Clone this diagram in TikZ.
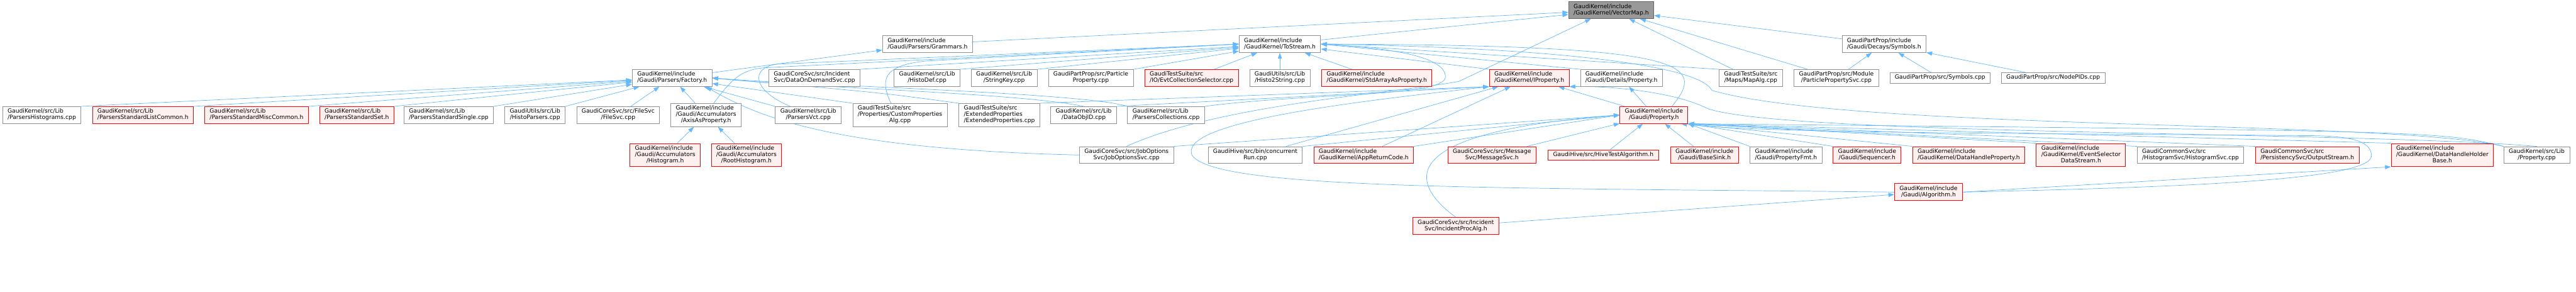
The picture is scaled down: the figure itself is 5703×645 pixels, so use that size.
\documentclass[tikz,border=0pt]{standalone}
\usepackage{fontspec}
\setmainfont{DejaVu Sans}
\usetikzlibrary{arrows.meta}
\definecolor{edgeblue}{HTML}{63B8FF}
\definecolor{boxgray}{HTML}{909090}
\definecolor{rootfill}{HTML}{999999}
\definecolor{rootline}{HTML}{666666}
\definecolor{truncfill}{HTML}{FFF0F0}
% first lines flush left, last line centred
\newcommand{\lbl}[2]{\begin{tabular}{@{}l@{}}#1\\\multicolumn{1}{@{}c@{}}{#2}\end{tabular}}
\newcommand{\lblone}[1]{\begin{tabular}{@{}c@{}}#1\end{tabular}}
\pgfdeclarelayer{edges}
\pgfsetlayers{edges,main}
\tikzset{
  srcbox/.style={draw=boxgray, fill=white, line width=1.2pt, inner xsep=11pt, inner ysep=4.8pt,
    font=\fontsize{12.8pt}{13.7pt}\selectfont},
  redbox/.style={srcbox, draw=red, fill=truncfill},
  rootbox/.style={srcbox, draw=rootline, fill=rootfill},
  incl/.style={draw=edgeblue, line width=1pt, -{Triangle[length=13pt,width=9pt]}}
}

\begin{document}
\begin{tikzpicture}[x=1pt,y=-1pt]
  \useasboundingbox (0,0) rectangle (5703,645);
  % root
  \node[rootbox] (VM) at (3567,22.5) {\lbl{GaudiKernel/include}{/GaudiKernel/VectorMap.h}};
  % level 1
  \node[srcbox] (GR) at (2053.5,97.5) {\lbl{GaudiKernel/include}{/Gaudi/Parsers/Grammars.h}};
  \node[srcbox] (TS) at (2833.5,97.5) {\lbl{GaudiKernel/include}{/GaudiKernel/ToStream.h}};
  \node[srcbox] (SYH) at (4171,97.5) {\lbl{GaudiPartProp/include}{/Gaudi/Decays/Symbols.h}};
  % level 2
  \node[srcbox] (FA) at (1488,172.5) {\lbl{GaudiKernel/include}{/Gaudi/Parsers/Factory.h}};
  \node[srcbox] (DOD) at (1803,172.5) {\lbl{GaudiCoreSvc/src/Incident}{Svc/DataOnDemandSvc.cpp}};
  \node[srcbox] (HD) at (2052.5,172.5) {\lbl{GaudiKernel/src/Lib}{/HistoDef.cpp}};
  \node[srcbox] (SK) at (2223,172.5) {\lbl{GaudiKernel/src/Lib}{/StringKey.cpp}};
  \node[srcbox] (PP) at (2415,172.5) {\lbl{GaudiPartProp/src/Particle}{Property.cpp}};
  \node[redbox] (ECS) at (2638,172.5) {\lbl{GaudiTestSuite/src}{/IO/EvtCollectionSelector.cpp}};
  \node[srcbox] (H2S) at (2833.5,172.5) {\lbl{GaudiUtils/src/Lib}{/Histo2String.cpp}};
  \node[redbox] (SAP) at (3048,172.5) {\lbl{GaudiKernel/include}{/GaudiKernel/StdArrayAsProperty.h}};
  \node[redbox] (IP) at (3385.5,172.5) {\lbl{GaudiKernel/include}{/GaudiKernel/IProperty.h}};
  \node[srcbox] (DP) at (3589.5,172.5) {\lbl{GaudiKernel/include}{/Gaudi/Details/Property.h}};
  \node[srcbox] (MA) at (3876,172.5) {\lbl{GaudiTestSuite/src}{/Maps/MapAlg.cpp}};
  \node[srcbox] (PPS) at (4065.5,172.5) {\lbl{GaudiPartProp/src/Module}{/ParticlePropertySvc.cpp}};
  \node[srcbox] (SYC) at (4295,172.5) {\lblone{GaudiPartProp/src/Symbols.cpp}};
  \node[srcbox] (NP) at (4545.5,172.5) {\lblone{GaudiPartProp/src/NodePIDs.cpp}};
  % level 3
  \node[srcbox] (PH) at (92.5,254.5) {\lbl{GaudiKernel/src/Lib}{/ParsersHistograms.cpp}};
  \node[redbox] (LC) at (316.5,254.5) {\lbl{GaudiKernel/src/Lib}{/ParsersStandardListCommon.h}};
  \node[redbox] (MC) at (568,254.5) {\lbl{GaudiKernel/src/Lib}{/ParsersStandardMiscCommon.h}};
  \node[redbox] (SS) at (790,254.5) {\lbl{GaudiKernel/src/Lib}{/ParsersStandardSet.h}};
  \node[srcbox] (SG) at (993.5,254.5) {\lbl{GaudiKernel/src/Lib}{/ParsersStandardSingle.cpp}};
  \node[srcbox] (HP) at (1184.5,254.5) {\lbl{GaudiUtils/src/Lib}{/HistoParsers.cpp}};
  \node[srcbox] (FS) at (1368.5,254.5) {\lbl{GaudiCoreSvc/src/FileSvc}{/FileSvc.cpp}};
  \node[srcbox] (AX) at (1563,254.5) {\lbl{GaudiKernel/include\\/Gaudi/Accumulators}{/AxisAsProperty.h}};
  \node[srcbox] (PV) at (1789.5,254.5) {\lbl{GaudiKernel/src/Lib}{/ParsersVct.cpp}};
  \node[srcbox] (CP) at (1992.5,254.5) {\lbl{GaudiTestSuite/src\\/Properties/CustomProperties}{Alg.cpp}};
  \node[srcbox] (EP) at (2212.5,254.5) {\lbl{GaudiTestSuite/src\\/ExtendedProperties}{/ExtendedProperties.cpp}};
  \node[srcbox] (DO) at (2399,254.5) {\lbl{GaudiKernel/src/Lib}{/DataObjID.cpp}};
  \node[srcbox] (PCol) at (2581.5,254.5) {\lbl{GaudiKernel/src/Lib}{/ParsersCollections.cpp}};
  \node[redbox] (GP) at (3661.5,254.5) {\lbl{GaudiKernel/include}{/Gaudi/Property.h}};
  % level 4
  \node[redbox] (HI) at (1472.5,343) {\lbl{GaudiKernel/include\\/Gaudi/Accumulators}{/Histogram.h}};
  \node[redbox] (RH) at (1652.5,343) {\lbl{GaudiKernel/include\\/Gaudi/Accumulators}{/RootHistogram.h}};
  \node[srcbox] (JOS) at (2494,343) {\lbl{GaudiCoreSvc/src/JobOptions}{Svc/JobOptionsSvc.cpp}};
  \node[srcbox] (CR) at (2779,343) {\lbl{GaudiHive/src/bin/concurrent}{Run.cpp}};
  \node[redbox] (ARC) at (3019,343) {\lbl{GaudiKernel/include}{/GaudiKernel/AppReturnCode.h}};
  \node[redbox] (MS) at (3303,343) {\lbl{GaudiCoreSvc/src/Message}{Svc/MessageSvc.h}};
  \node[redbox] (HT) at (3549.5,343) {\lblone{GaudiHive/src/HiveTestAlgorithm.h}};
  \node[redbox] (BS) at (3773.5,343) {\lbl{GaudiKernel/include}{/Gaudi/BaseSink.h}};
  \node[srcbox] (PF) at (3954,343) {\lbl{GaudiKernel/include}{/Gaudi/PropertyFmt.h}};
  \node[redbox] (SQ) at (4133.5,343) {\lbl{GaudiKernel/include}{/Gaudi/Sequencer.h}};
  \node[redbox] (DHP) at (4358.5,343) {\lbl{GaudiKernel/include}{/GaudiKernel/DataHandleProperty.h}};
  \node[redbox] (ESD) at (4607,343) {\lbl{GaudiKernel/include\\/GaudiKernel/EventSelector}{DataStream.h}};
  \node[srcbox] (HS) at (4849.5,343) {\lbl{GaudiCommonSvc/src}{/HistogramSvc/HistogramSvc.cpp}};
  \node[redbox] (OS) at (5108,343) {\lbl{GaudiCommonSvc/src}{/PersistencySvc/OutputStream.h}};
  \node[redbox] (DHH) at (5407,343) {\lbl{GaudiKernel/include\\/GaudiKernel/DataHandleHolder}{Base.h}};
  \node[srcbox] (PC) at (5616,343) {\lbl{GaudiKernel/src/Lib}{/Property.cpp}};
  % levels 5 and 6
  \node[redbox] (AL) at (4269.5,425) {\lbl{GaudiKernel/include}{/Gaudi/Algorithm.h}};
  \node[redbox] (IPA) at (3223,500) {\lbl{GaudiCoreSvc/src/Incident}{Svc/IncidentProcAlg.h}};

  \begin{pgfonlayer}{edges}
    % into VectorMap.h
    \draw[incl] (GR) -- (VM);
    \draw[incl] (TS) -- (VM);
    \draw[incl] (JOS.north) .. controls (2700,230) and (3100,205) .. (3230,180) -- ([xshift=-45pt]VM.south);
    \draw[incl] (MA) -- (VM);
    \draw[incl] (PPS) -- (VM);
    \draw[incl] (SYH) -- (VM);
    % into Symbols.h
    \foreach \s in {PPS,SYC,NP} \draw[incl] (\s) -- (SYH);
    % into Grammars.h
    \draw[incl] (FA) -- (GR);
    % into ToStream.h
    \draw[incl] ([xshift=17pt]AX.north) .. controls (1620,175) and (1640,155) .. (1690,150) -- (TS.west);
    \draw[incl] ([xshift=-40pt]PV.north) .. controls (1665,200) and (1660,150) .. (1720,142) -- (TS.west);
    \draw[incl] ([xshift=-20pt]CP.north) .. controls (1950,180) and (1950,145) .. (2050,135) -- (TS.west);
    \foreach \s in {DOD,HD,SK,PP} \draw[incl] (\s.north east) -- (TS);
    \foreach \s in {ECS,H2S,SAP} \draw[incl] (\s) -- (TS);
    \draw[incl] (IP.north west) -- (TS);
    \draw[incl] (DP.north west) -- (TS.east);
    \draw[incl] (MA.north west) -- (TS.east);
    \draw[incl] ([xshift=40pt]GP.north) .. controls (3780,140) and (3740,100) .. (TS.east);
    \draw[incl] (PCol.north east) .. controls (2900,205) and (3200,215) .. (3200,170) .. controls (3200,120) and (3050,105) .. (TS.east);
    \draw[incl] (PC.north west) .. controls (5300,265) and (4100,290) .. (3790,200) .. controls (3760,140) and (3400,105) .. (TS.east);
    % into Factory.h
    \foreach \s in {PH,LC,MC,SS,SG,HP} \draw[incl] (\s.north east) -- (FA);
    \draw[incl] (FS) -- (FA);
    \draw[incl] (AX) -- (FA);
    \draw[incl] (PV.north west) -- (FA);
    \draw[incl] (CP.north west) -- (FA);
    \draw[incl] (EP.north west) .. controls (1950,205) .. (FA.east);
    \draw[incl] (DO.north) .. controls (2250,205) and (1800,195) .. (FA.east);
    \draw[incl] (PCol.north west) .. controls (2400,205) and (1800,190) .. (FA.east);
    \draw[incl] (JOS.west) .. controls (1850,330) and (1680,260) .. ([xshift=75pt]FA.south);
    % into AxisAsProperty.h
    \draw[incl] (HI) -- (AX);
    \draw[incl] (RH) -- (AX);
    % into IProperty.h
    \draw[incl] (GP) -- (IP);
    \draw[incl] (ARC) -- (IP);
    \draw[incl] (CR) -- (IP);
    \draw[incl] (DO.north east) -- (IP.south west);
    \draw[incl] (EP.north east) -- (IP.south west);
    \draw[incl] (AL.west) .. controls (3300,415) and (2700,420) .. (2640,345) .. controls (2600,270) and (3000,225) .. (IP.south west);
    \draw[incl] (PC.north) .. controls (5200,290) and (3950,300) .. (3780,240) .. controls (3700,200) and (3550,190) .. (IP.south east);
    % into Details/Property.h
    \draw[incl] (GP) -- (DP);
    % into Gaudi/Property.h
    \foreach \s in {JOS,CR,ARC} \draw[incl] (\s.north east) -- (GP.west);
    \foreach \s in {MS,HT,BS} \draw[incl] (\s) -- (GP);
    \foreach \s in {PF,SQ,DHP,ESD,HS,OS,DHH} \draw[incl] (\s.north west) -- (GP.south east);
    \draw[incl] (PC.north west) .. controls (5400,290) .. (GP.south east);
    \draw[incl] (IPA.north) .. controls (3100,390) and (3120,290) .. (GP.west);
    \draw[incl] (AL.east) .. controls (4800,415) and (5250,400) .. (5250,345) .. controls (5250,310) and (5200,300) .. (5100,300) .. controls (4500,295) and (3900,295) .. ([xshift=60pt]GP.south);
    % into Algorithm.h and DataHandleHolderBase.h
    \draw[incl] (IPA) -- (AL);
    \draw[incl] (AL.east) -- (DHH.south west);
  \end{pgfonlayer}
\end{tikzpicture}
\end{document}
